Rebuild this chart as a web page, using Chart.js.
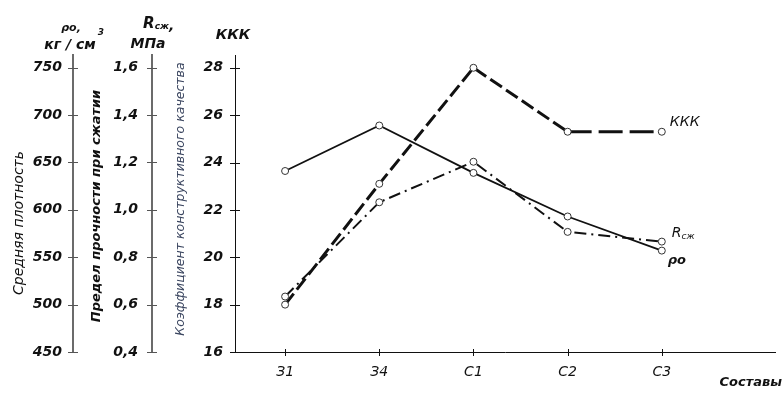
<!DOCTYPE html>
<html>
<head>
<meta charset="utf-8">
<script src="https://cdn.jsdelivr.net/npm/chart.js@4.4.1/dist/chart.umd.min.js"></script>
<style>
  html, body { margin: 0; padding: 0; background: #fff; }
  #wrap { width: 784px; height: 395px; }
</style>
</head>
<body>
<div id="wrap"><canvas id="c" width="784" height="395"></canvas></div>
<script>
const categories = ['З1', 'З4', 'С1', 'С2', 'С3'];
const categoryPositions = [0, 1, 2, 3, 4];
const densityValues = [641, 689, 639, 593, 557];          // ρo, кг/см³
const strengthValues = [0.634, 1.032, 1.203, 0.907, 0.866]; // Rсж, МПа
const kkkValues = [18.0, 23.1, 28.0, 25.3, 25.3];          // ККК
const densityTicks = [450, 500, 550, 600, 650, 700, 750];
const strengthTicks = [0.4, 0.6, 0.8, 1.0, 1.2, 1.4, 1.6];
const kkkTicks = [16, 18, 20, 22, 24, 26, 28];

const FONT = '"DejaVu Sans", sans-serif';

function pts(vals) { return vals.map((v, i) => ({ x: categoryPositions[i], y: v })); }

const pointStyle = {
  pointRadius: 3.5, pointHoverRadius: 3.5,
  pointBackgroundColor: '#fff', pointBorderColor: '#333', pointBorderWidth: 1
};

function fixTicks(list) {
  return scale => { scale.ticks = list.map(v => ({ value: v })); };
}

const decor = {
  id: 'decor',
  afterDraw(chart) {
    const { ctx, scales } = chart;
    const sx = scales.x, yR = scales.yRho, yS = scales.yStr, yK = scales.yKKK;
    ctx.save();
    function yMarks(scale, vals, color, w) {
      ctx.strokeStyle = color; ctx.lineWidth = w;
      vals.forEach(v => {
        const py = Math.round(scale.getPixelForValue(v)) + 0.5;
        ctx.beginPath(); ctx.moveTo(scale.right - 5, py); ctx.lineTo(scale.right + 5, py); ctx.stroke();
      });
    }
    yMarks(yR, densityTicks, '#555', 1);
    yMarks(yS, strengthTicks, '#555', 1);
    yMarks(yK, kkkTicks, '#111', 1);
    ctx.strokeStyle = '#111'; ctx.lineWidth = 1;
    categoryPositions.forEach(v => {
      const px = Math.round(sx.getPixelForValue(v)) + 0.5;
      ctx.beginPath(); ctx.moveTo(px, sx.top - 3); ctx.lineTo(px, sx.top + 4); ctx.stroke();
    });

    ctx.fillStyle = '#111';
    ctx.textBaseline = 'middle';
    function sub(main, small, x, y, mainFont, smallFont, align) {
      ctx.font = mainFont; const w1 = ctx.measureText(main).width;
      ctx.font = smallFont; const w2 = ctx.measureText(small).width;
      let x0 = x;
      if (align === 'center') x0 = x - (w1 + w2) / 2;
      ctx.textAlign = 'left';
      ctx.font = mainFont; ctx.fillText(main, x0, y);
      ctx.font = smallFont; ctx.fillText(small, x0 + w1, y + 3);
      return x0 + w1 + w2;
    }
    // top titles
    ctx.textAlign = 'center';
    ctx.font = 'italic bold 11px ' + FONT;
    ctx.fillText('ρo,', 71, 28);
    ctx.font = 'italic bold 14px ' + FONT;
    ctx.fillText('кг / см', 70, 45);
    ctx.font = 'italic bold 9px ' + FONT;
    ctx.fillText('3', 101, 33);
    const end = sub('R', 'сж', 156, 24, 'italic bold 15px ' + FONT, 'italic bold 9px ' + FONT, 'center');
    ctx.font = 'italic bold 14px ' + FONT; ctx.textAlign = 'left'; ctx.fillText(',', end, 26);
    ctx.textAlign = 'center';
    ctx.font = 'italic bold 14px ' + FONT;
    ctx.fillText('МПа', 148, 44);
    ctx.fillText('ККК', 233, 35);

    function vtext(t, cx, cy, font, color) {
      ctx.save(); ctx.translate(cx, cy); ctx.rotate(-Math.PI / 2);
      ctx.font = font; ctx.fillStyle = color; ctx.textAlign = 'center'; ctx.textBaseline = 'middle';
      ctx.fillText(t, 0, 0); ctx.restore();
    }
    vtext('Средняя плотность', 19, 223, 'italic 14px ' + FONT, '#111');
    vtext('Предел прочности при сжатии', 97, 206, 'italic bold 13px ' + FONT, '#111');
    vtext('Коэффициент конструктивного качества', 181, 199, 'italic 12.5px ' + FONT, '#3b4660');

    const last = categoryPositions.length - 1;
    const lx = sx.getPixelForValue(categoryPositions[last]);
    ctx.fillStyle = '#111'; ctx.textAlign = 'left';
    ctx.font = 'italic 14px ' + FONT;
    ctx.fillText('ККК', lx + 8, yK.getPixelForValue(kkkValues[last]) - 9);
    sub('R', 'сж', lx + 10, yS.getPixelForValue(strengthValues[last]) - 8, 'italic 14px ' + FONT, 'italic 9px ' + FONT, 'left');
    ctx.font = 'italic bold 13px ' + FONT;
    ctx.fillText('ρo', lx + 6, yR.getPixelForValue(densityValues[last]) + 10);

    ctx.textAlign = 'right';
    ctx.font = 'italic bold 13px ' + FONT;
    ctx.fillText('Составы', 782, 383);
    ctx.restore();
  }
};

new Chart(document.getElementById('c'), {
  type: 'line',
  data: {
    datasets: [
      Object.assign({
        label: 'ρo', data: pts(densityValues), yAxisID: 'yRho',
        borderColor: '#111', borderWidth: 1.8, tension: 0
      }, pointStyle),
      Object.assign({
        label: 'Rсж', data: pts(strengthValues), yAxisID: 'yStr',
        borderColor: '#111', borderWidth: 2, borderDash: [12, 5, 2, 5], tension: 0
      }, pointStyle),
      Object.assign({
        label: 'ККК', data: pts(kkkValues), yAxisID: 'yKKK',
        borderColor: '#111', borderWidth: 3, borderDash: [14, 5], tension: 0,
        segment: { borderDash: c => (c.p0DataIndex === 3 ? [24, 7] : [14, 5]) }
      }, pointStyle)
    ]
  },
  options: {
    responsive: false, animation: false,
    layout: { padding: { top: 55, right: 9, left: 0, bottom: 0 } },
    plugins: { legend: { display: false }, tooltip: { enabled: false } },
    scales: {
      x: {
        type: 'linear', position: 'bottom',
        min: -0.532, max: 5.202,
        afterBuildTicks: fixTicks(categoryPositions),
        afterFit: s => { s.height = 43; },
        grid: { display: false, drawTicks: false },
        border: { display: true, color: '#111', width: 1 },
        ticks: {
          padding: 12, color: '#111',
          font: { family: FONT, size: 14, style: 'italic' },
          callback: v => categories[categoryPositions.indexOf(v)] || ''
        }
      },
      yRho: {
        type: 'linear', position: 'left', weight: 30,
        min: 450, max: 763.4,
        afterBuildTicks: fixTicks(densityTicks),
        afterFit: s => { s.width = 73; },
        grid: { display: false, drawTicks: false },
        border: { display: true, color: '#6b6b6b', width: 2 },
        ticks: { padding: 11, color: '#111', font: { family: FONT, size: 14, style: 'italic', weight: 'bold' } }
      },
      yStr: {
        type: 'linear', position: 'left', weight: 20,
        min: 0.4, max: 1.6536,
        afterBuildTicks: fixTicks(strengthTicks),
        afterFit: s => { s.width = 79; },
        grid: { display: false, drawTicks: false },
        border: { display: true, color: '#6b6b6b', width: 2 },
        ticks: {
          padding: 14, color: '#111', font: { family: FONT, size: 14, style: 'italic', weight: 'bold' },
          callback: v => v.toFixed(1).replace('.', ',')
        }
      },
      yKKK: {
        type: 'linear', position: 'left', weight: 10,
        min: 16, max: 28.54,
        afterBuildTicks: fixTicks(kkkTicks),
        afterFit: s => { s.width = 83; },
        grid: { display: false, drawTicks: false },
        border: { display: true, color: '#111', width: 1 },
        ticks: { padding: 12, color: '#111', font: { family: FONT, size: 14, style: 'italic', weight: 'bold' } }
      }
    }
  },
  plugins: [decor]
});
</script>
</body>
</html>
